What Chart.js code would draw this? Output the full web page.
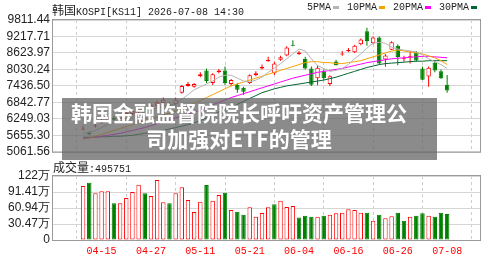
<!DOCTYPE html>
<html>
<head>
<meta charset="utf-8">
<script src="https://cdn.jsdelivr.net/npm/chart.js"></script>
<style>
  html, body { margin: 0; padding: 0; width: 500px; height: 260px; overflow: hidden; background: #fff; }
  #wrap { position: relative; width: 500px; height: 260px; }
  canvas { position: absolute; left: 0; }
  #kline { top: 0; }
  #vol { top: 160px; }
  .mono { font-family: "Liberation Mono", "DejaVu Sans Mono", monospace; font-size: 10px; color: #222; }
  .cjk { font-family: "Noto Sans CJK SC", sans-serif; font-size: 12px; }
  #title { position: absolute; left: 52px; top: 1px; white-space: nowrap; }
  #legend { position: absolute; left: 307px; top: 2px; white-space: nowrap; }
  .sw { display: inline-block; width: 6px; height: 3px; vertical-align: middle; margin: 0 8px 0 2px; }
  #volTitle { position: absolute; left: 53px; top: 158px; white-space: nowrap; }
  #banner { position: absolute; left: 62px; top: 98px; width: 375px; height: 62px; background: rgba(100, 100, 100, 0.75); }
  #bannerText { position: absolute; left: 62px; top: 99px; width: 354px; text-align: center; color: #fff;
    font-family: "Noto Sans CJK SC", sans-serif; font-weight: 700; font-size: 21px; line-height: 26px; white-space: nowrap; }
</style>
</head>
<body>
<div id="wrap">
  <canvas id="kline" width="500" height="162"></canvas>
  <canvas id="vol" width="500" height="100"></canvas>
  <div id="title" class="mono"><span class="cjk">韩国</span>KOSPI[KS11] 2026-07-08 14:30</div>
  <div id="legend" class="mono">5PMA<span class="sw" style="background:#b4b4b4"></span>10PMA<span class="sw" style="background:#f5a300"></span>20PMA<span class="sw" style="background:#ff00ff"></span>30PMA<span class="sw" style="background:#006633;margin-right:0"></span></div>
  <div id="volTitle" class="mono"><span class="cjk">成交量</span>:495751</div>
  <div id="banner"></div>
  <div id="bannerText">韩国金融监督院院长呼吁资产管理公<br>司加强对ETF的管理</div>
</div>
<script>
// x-axis tick labels (trading day index -> date)
const tickIdx = [3, 11, 19, 27, 35, 43, 51, 59];
const dates = ['04-15', '04-27', '05-11', '05-21', '06-04', '06-16', '06-26', '07-08'];

const priceTicks = [5061.56, 5655.30, 6249.03, 6842.77, 7436.50, 8030.24, 8623.97, 9217.71, 9811.44];
const volTicks = [0, 304700, 609400, 914100, 1218800];
const volTickLabels = ['0', '30.47万', '60.94万', '91.41万', '122万'];

// daily candles
const open  = [5866,5761,5971,6110,6180,6285,6250,6354,6424,6494,6668,6599,6703,6808,6773,6773,7192,7437,7402,7786,
               7995,7541,7925,7995,7506,7471,7367,7541,7821,8065,8327,7891,8380,8529,8921,8589,8414,8065,7716,7960,
               7506,8320,8571,8694,8648,8938,9403,8973,9183,8390,8740,8880,8397,8467,8648,8065,7775,8275,7960,7482];
const high  = [6005,5796,6075,6250,6320,6354,6424,6529,6599,6738,6738,6808,6913,7017,6843,7017,7471,7576,7541,7925,
               8065,7891,8048,8135,7681,7541,7402,7856,7960,8205,8484,8320,8519,8868,9078,8694,8484,8135,8170,8030,
               7821,8380,8694,8799,8921,9148,9532,9218,9218,8589,9043,8938,8519,8704,8694,8135,8135,8345,8030,7832];
const low   = [5831,5656,5936,6075,6145,6180,6215,6320,6389,6459,6494,6564,6668,6738,6634,6738,7157,7402,7367,7751,
               7541,7471,7891,7471,7437,7192,7122,7506,7786,8030,8310,7830,8345,8502,8868,8554,8030,7437,7461,7646,
               7437,8170,8519,8659,8624,8903,8879,8938,8205,8124,8729,8181,8310,8240,8310,7646,7402,7925,7681,7192];
const close = [5901,5691,6005,6180,6285,6215,6389,6459,6529,6668,6564,6738,6843,6948,6668,6948,7437,7506,7506,7856,
               7611,7856,7995,7541,7646,7297,7227,7821,7891,8117,8380,8240,8467,8822,8886,8641,8065,7482,8089,7716,
               7786,8180,8606,8729,8879,9113,9054,9183,8240,8529,9008,8474,8432,8502,8355,7657,8089,7995,7716,7272];

// moving averages
const ma5  = [5726,5761,5831,5936,6040,6110,6180,6250,6320,6424,6494,6564,6634,6703,6738,6773,6948,7122,7297,7402,
              7506,7611,7751,7821,7821,7716,7611,7576,7646,7751,7925,8065,8240,8414,8589,8764,8694,8414,8170,8065,
              7960,7995,8065,8205,8414,8589,8799,8973,9008,8973,8834,8764,8729,8694,8659,8554,8414,8310,8205,8065];
const ma10 = [5517,5552,5622,5691,5761,5831,5901,5971,6040,6110,6180,6250,6320,6389,6459,6529,6599,6703,6808,6913,
              7017,7122,7227,7332,7437,7506,7576,7646,7716,7786,7856,7925,7995,8065,8135,8205,8275,8310,8310,8275,
              8275,8240,8240,8275,8310,8345,8414,8484,8554,8624,8694,8729,8694,8659,8624,8589,8519,8449,8345,8205];
const ma20 = [5552,5569,5587,5622,5656,5691,5726,5778,5831,5883,5936,6005,6075,6145,6215,6285,6354,6424,6494,6564,
              6668,6756,6843,6930,7017,7087,7157,7227,7297,7367,7437,7506,7576,7646,7716,7768,7821,7873,7925,7960,
              7995,8030,8065,8117,8170,8222,8275,8310,8345,8380,8414,8432,8449,8467,8484,8502,8502,8484,8467,8449];
const ma30 = [5587,5587,5587,5604,5604,5622,5622,5639,5656,5691,5726,5761,5796,5831,5883,5936,5988,6040,6110,6180,
              6285,6389,6494,6599,6668,6773,6878,6983,7087,7192,7262,7332,7384,7437,7471,7506,7541,7576,7611,7646,
              7698,7751,7821,7891,7960,8030,8100,8152,8205,8240,8257,8275,8292,8310,8327,8327,8345,8345,8345,8345];

// volume and its up/down colour flag
const volume = [1028000,1091000,889000,927000,927000,698000,698000,800000,914000,1053000,
                889000,838000,1143000,717000,698000,889000,1003000,762000,533000,730000,
                1047000,748000,857000,900000,571000,536000,483000,623000,444000,514000,
                623000,680000,748000,628000,648000,428000,463000,444000,444000,463000,
                482000,508000,520000,584000,571000,520000,520000,368000,482000,413000,
                451000,520000,368000,444000,463000,508000,463000,444000,520000,495751];
const volUp = [1,0,1,1,1,0,1,1,1,1, 0,1,1,1,0,1,1,1,1,1, 0,1,1,0,1,0,0,1,1,1,
               1,0,1,1,1,0,0,0,1,0, 1,1,1,1,1,1,0,1,0,1, 1,0,0,1,0,0,1,0,0,0];

const RED = '#ff0000';
const GREEN = '#008000';
const idx = close.map((c, i) => i);
const up = i => close[i] >= open[i];

const frame = {
  id: 'frame',
  afterDraw(chart) {
    const { ctx, chartArea: a } = chart;
    ctx.save();
    ctx.strokeStyle = '#9a9a9a';
    ctx.lineWidth = 1;
    ctx.strokeRect(a.left - 0.5, a.top - 0.5, a.right - a.left + 1, a.bottom - a.top + 1);
    ctx.restore();
  }
};

const xAxis = (showLabels) => ({
  type: 'linear',
  min: -0.55,
  max: 60,
  afterBuildTicks: s => { s.ticks = tickIdx.map(v => ({ value: v })); },
  ticks: {
    display: showLabels,
    autoSkip: false,
    maxRotation: 0,
    color: RED,
    padding: 5,
    font: { family: 'Liberation Mono', size: 10 },
    callback: v => dates[tickIdx.indexOf(v)]
  },
  grid: { color: '#cccccc', drawTicks: false },
  border: { display: false, dash: [3, 3] },
  afterFit: s => { s.height = showLabels ? 20 : 0; }
});

const yFont = { family: 'Liberation Sans', size: 12 };

const maLine = (label, data, color) => ({
  type: 'line',
  label,
  data: data.map((v, i) => ({ x: i, y: v })),
  borderColor: color,
  borderWidth: 1,
  pointRadius: 0,
  order: 1
});

new Chart(document.getElementById('kline'), {
  type: 'bar',
  data: {
    datasets: [
      maLine('5PMA', ma5, '#b4b4b4'),
      maLine('10PMA', ma10, '#f5a300'),
      maLine('20PMA', ma20, '#ff00ff'),
      maLine('30PMA', ma30, '#006633'),
      {
        label: 'wick',
        data: idx.map(i => ({ x: i, y: [low[i], high[i]] })),
        backgroundColor: c => up(c.dataIndex) ? RED : GREEN,
        maxBarThickness: 1,
        grouped: false,
        order: 3
      },
      {
        label: 'body',
        data: idx.map(i => ({ x: i, y: [open[i], close[i]] })),
        backgroundColor: c => up(c.dataIndex) ? '#ffffff' : GREEN,
        borderColor: c => up(c.dataIndex) ? RED : GREEN,
        borderWidth: 1,
        borderSkipped: false,
        minBarLength: 1,
        maxBarThickness: 5,
        grouped: false,
        order: 2
      }
    ]
  },
  options: {
    responsive: false,
    animation: false,
    events: [],
    layout: { padding: { left: 0, right: 20, top: 20, bottom: 6 } },
    plugins: { legend: { display: false }, tooltip: { enabled: false } },
    scales: {
      x: xAxis(false),
      y: {
        min: 5061.56,
        max: 9811.44,
        afterBuildTicks: s => { s.ticks = priceTicks.map(v => ({ value: v })); },
        ticks: { autoSkip: false, callback: v => v.toFixed(2), color: '#222', font: yFont, padding: 3 },
        grid: { color: '#d6d6d6', drawTicks: false },
        border: { display: false },
        afterFit: s => { s.width = 53; }
      }
    }
  },
  plugins: [frame]
});

new Chart(document.getElementById('vol'), {
  type: 'bar',
  data: {
    datasets: [{
      label: 'volume',
      data: volume.map((v, i) => ({ x: i, y: v })),
      backgroundColor: c => volUp[c.dataIndex] ? '#ffffff' : GREEN,
      borderColor: c => volUp[c.dataIndex] ? RED : GREEN,
      borderWidth: 1,
      borderSkipped: false,
      maxBarThickness: 5
    }]
  },
  options: {
    responsive: false,
    animation: false,
    events: [],
    layout: { padding: { left: 0, right: 20, top: 16, bottom: 0 } },
    plugins: { legend: { display: false }, tooltip: { enabled: false } },
    scales: {
      x: xAxis(true),
      y: {
        min: 0,
        max: 1218800,
        afterBuildTicks: s => { s.ticks = volTicks.map(v => ({ value: v })); },
        ticks: { autoSkip: false, callback: v => volTickLabels[volTicks.indexOf(v)], color: '#222', font: yFont, padding: 3 },
        grid: { color: '#d6d6d6', drawTicks: false },
        border: { display: false },
        afterFit: s => { s.width = 53; }
      }
    }
  },
  plugins: [frame]
});
</script>
</body>
</html>
